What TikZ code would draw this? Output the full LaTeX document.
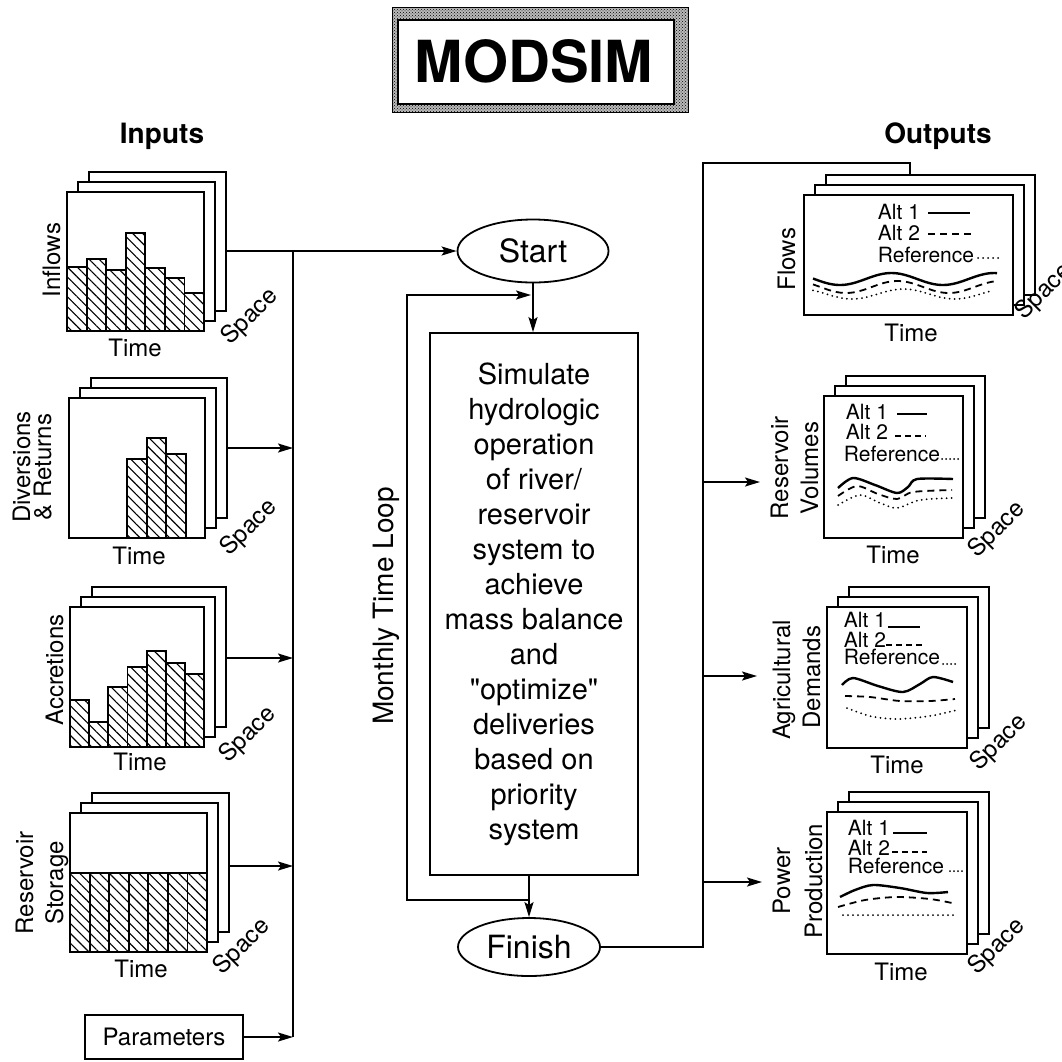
\documentclass[tikz,border=0pt]{standalone}
\usepackage{fontspec}
\setmainfont{TeX Gyre Heros}
\usetikzlibrary{arrows.meta,patterns,patterns.meta,shapes.geometric}

% three stacked sheets, front one at (#1,#2)-(#3,#4)
\newcommand{\sheets}[4]{%
  \draw[sheet] ({#1+22},{#2-20}) rectangle ({#3+22},{#4-20});
  \draw[sheet] ({#1+11},{#2-10}) rectangle ({#3+11},{#4-10});
  \draw[sheet] (#1,#2) rectangle (#3,#4);}

\begin{document}
\begin{tikzpicture}[x=1pt,y=-1pt,line width=1.8pt,
    sheet/.style={draw,fill=white,line width=2.2pt},
    bar/.style={draw,line width=1.8pt,pattern={Lines[angle=-45,distance=7pt,line width=1.1pt]}},
    flow/.style={-{Stealth[length=15pt,width=9pt,inset=3pt]}},
    lbl/.style={font=\fontsize{24}{28}\selectfont,inner sep=0pt},
    leg/.style={font=\fontsize{21}{24}\selectfont,inner sep=0pt,anchor=west},
    big/.style={font=\fontsize{32}{38}\selectfont},
    head/.style={font=\bfseries\fontsize{28}{32}\selectfont,anchor=base},
    dashline/.style={line width=1.8pt,dash pattern=on 7pt off 5pt},
    dots/.style={line width=2pt,dash pattern=on 0pt off 5pt,line cap=round}]
    \useasboundingbox (0,0) rectangle (1062,1061);

    % title
    \fill[gray!55] (392,7) rectangle (688,112);
    \fill[pattern=crosshatch dots] (392,7) rectangle (688,112);
    \draw[line width=0.8pt] (392,7) rectangle (688,112);
    \draw[fill=white,line width=2.5pt] (398,20) rectangle (674,104);
    \node[font=\bfseries\fontsize{58}{64}\selectfont,anchor=base] (title) at (534,82) {MODSIM};

    \node[head] (inputs) at (162,143) {Inputs};
    \node[head] (outputs) at (938,143) {Outputs};

    % inflows
    \sheets{67}{192}{204}{331}
    \draw[bar] (67,267) rectangle (86.6,331);
    \draw[bar] (86.6,259) rectangle (106.1,331);
    \draw[bar] (106.1,270) rectangle (125.7,331);
    \draw[bar] (125.7,233) rectangle (145.3,331);
    \draw[bar] (145.3,268) rectangle (164.9,331);
    \draw[bar] (164.9,278) rectangle (184.4,331);
    \draw[bar] (184.4,293) rectangle (204,331);
    \node[lbl,rotate=90,anchor=base] (inflowLbl) at (60,260) {Inflows};
    \node[lbl] (inflowTime) at (135,348) {Time};
    \node[lbl,rotate=45] (inflowSpace) at (250,317) {Space};

    % diversions
    \sheets{69}{398}{205}{538}
    \draw[bar] (127.3,459) rectangle (146.7,538);
    \draw[bar] (146.7,438) rectangle (166.1,538);
    \draw[bar] (166.1,454) rectangle (185.6,538);
    \node[lbl,rotate=90,anchor=base] (divLbl) at (30,467) {Diversions};
    \node[lbl,rotate=90,anchor=base] (retLbl) at (51,467) {\& Returns};
    \node[lbl] (divTime) at (139,556) {Time};
    \node[lbl,rotate=45] (divSpace) at (249,528) {Space};

    % accretions
    \sheets{70}{607}{204}{747}
    \draw[bar] (70,700) rectangle (89.1,747);
    \draw[bar] (89.1,722) rectangle (108.3,747);
    \draw[bar] (108.3,687) rectangle (127.4,747);
    \draw[bar] (127.4,667) rectangle (146.6,747);
    \draw[bar] (146.6,651) rectangle (165.7,747);
    \draw[bar] (165.7,663) rectangle (184.9,747);
    \draw[bar] (184.9,674) rectangle (204,747);
    \node[lbl,rotate=90,anchor=base] (accLbl) at (63,670) {Accretions};
    \node[lbl] (accTime) at (140,762) {Time};
    \node[lbl,rotate=45] (accSpace) at (248,735) {Space};

    % reservoir storage
    \sheets{70}{813}{207}{952}
    \draw[bar] (70,873) rectangle (89.6,952);
    \draw[bar] (89.6,873) rectangle (109.1,952);
    \draw[bar] (109.1,873) rectangle (128.7,952);
    \draw[bar] (128.7,873) rectangle (148.3,952);
    \draw[bar] (148.3,873) rectangle (167.9,952);
    \draw[bar] (167.9,873) rectangle (187.4,952);
    \draw[bar] (187.4,873) rectangle (207,952);
    \node[lbl,rotate=90,anchor=base] (stoLbl) at (33,883) {Reservoir};
    \node[lbl,rotate=90,anchor=base] (stoLbl2) at (63,883) {Storage};
    \node[lbl] (stoTime) at (141,969) {Time};
    \node[lbl,rotate=45] (stoSpace) at (242,947) {Space};

    \node[draw,lbl,line width=1.5pt,minimum width=158pt,minimum height=44pt] (param) at (164,1037) {Parameters};

    % simulation column
    \node[ellipse,draw,big,inner sep=0pt,minimum width=151pt,minimum height=63pt] (start) at (533,251) {Start};
    \node[draw,align=center,font=\fontsize{29}{35}\selectfont,minimum width=208pt,minimum height=542pt] (sim) at (534,604)
        {Simulate\\hydrologic\\operation\\of river/\\reservoir\\system to\\achieve\\mass balance\\and\\\textquotedbl optimize\textquotedbl\\deliveries\\based on\\priority\\system};
    \node[ellipse,draw,big,inner sep=0pt,minimum width=142pt,minimum height=58pt] (finish) at (529,947) {Finish};
    \node[font=\fontsize{28}{32}\selectfont,inner sep=0pt,rotate=90,anchor=base] (loopLbl) at (393,606) {Monthly Time Loop};

    % input connectors
    \coordinate (inR) at (227,251);
    \coordinate (busT) at (293,251);
    \coordinate (busB) at (293,1037);
    \coordinate (divR) at (227,448);
    \coordinate (divJ) at (293,448);
    \coordinate (accR) at (227,658);
    \coordinate (accJ) at (293,658);
    \coordinate (stoR) at (229,866);
    \coordinate (stoJ) at (293,866);
    \draw[flow] (inR) -- (start);
    \draw (busT) -- (busB);
    \draw[flow] (divR) -- (divJ);
    \draw[flow] (accR) -- (accJ);
    \draw[flow] (stoR) -- (stoJ);
    \draw[flow] (param) -- (busB);

    % time loop
    \coordinate (loopR) at (529,900);
    \coordinate (loopL) at (407,900);
    \coordinate (loopIn) at (531,295);
    \draw[flow] (start) -- (start |- sim.north);
    \draw[flow] (finish |- sim.south) -- (finish);
    \draw[flow] (loopR) -- (loopL) |- (loopIn);

    % output connectors
    \coordinate (outT) at (703,163);
    \coordinate (flowT) at (910,195);
    \coordinate (volJ) at (703,482);
    \coordinate (volL) at (760,482);
    \coordinate (agrJ) at (703,676);
    \coordinate (agrL) at (757,676);
    \coordinate (powJ) at (703,882);
    \coordinate (powL) at (762,882);
    \draw[flow] (finish.east) -| (outT) -| (flowT);
    \draw[flow] (volJ) -- (volL);
    \draw[flow] (agrJ) -- (agrL);
    \draw[flow] (powJ) -- (powL);

    % flows
    \sheets{804}{195}{1013}{315}
    \node[leg] (flowA1) at (877,212) {Alt 1};
    \draw (928,213) -- (970,213);
    \node[leg] (flowA2) at (877,233) {Alt 2};
    \draw[dashline] (928,234) -- (972,234);
    \node[leg] (flowRef) at (877,255) {Reference};
    \draw[dots] (978,258) -- (1000,258);
    \draw[line width=2.4pt] plot[domain=813:997,samples=60] (\x,{279+6*cos((\x-840)*3.5)});
    \draw[dashline] plot[domain=813:995,samples=60] (\x,{287+6*cos((\x-846)*3.5)});
    \draw[dots] plot[domain=813:993,samples=60] (\x,{294+5*cos((\x-852)*3.5)});
    \node[lbl,rotate=90,anchor=base] (flowLbl) at (795,259) {Flows};
    \node[lbl] (flowTime) at (911,333) {Time};
    \node[lbl,rotate=45] (flowSpace) at (1044,292) {Space};

    % reservoir volumes
    \sheets{824}{396}{963}{538}
    \node[leg] (volA1) at (845,412) {Alt 1};
    \draw (897,414) -- (927,414);
    \node[leg] (volA2) at (845,432) {Alt 2};
    \draw[dashline,dash pattern=on 6pt off 4pt] (895,436) -- (926,436);
    \node[leg] (volRef) at (843,454) {Reference};
    \draw[dots,dash pattern=on 0pt off 4pt] (942,459) -- (958,459);
    \draw[line width=2.4pt] plot[smooth] coordinates {(838,488) (853,478) (875,485) (897,493) (908,487) (917,479) (953,479)};
    \draw[dashline] plot[smooth] coordinates {(838,496) (857,486) (878,494) (897,499) (913,492) (952,490)};
    \draw[dots] plot[smooth] coordinates {(838,505) (860,495) (880,503) (897,508) (920,500) (953,498)};
    \node[lbl,rotate=90,anchor=base] (volLbl) at (788,468) {Reservoir};
    \node[lbl,rotate=90,anchor=base] (volLbl2) at (818,468) {Volumes};
    \node[lbl] (volTime) at (893,555) {Time};
    \node[lbl,rotate=45] (volSpace) at (997,530) {Space};

    % agricultural demands
    \sheets{827}{607}{967}{748}
    \node[leg] (agrA1) at (843,620) {Alt 1};
    \draw (888,627) -- (920,627);
    \node[leg] (agrA2) at (843,640) {Alt 2};
    \draw[dashline,dash pattern=on 6pt off 4pt] (886,645) -- (925,645);
    \node[leg] (agrRef) at (843,657) {Reference};
    \draw[dots,dash pattern=on 0pt off 4pt] (943,664) -- (958,664);
    \draw[line width=2.4pt] plot[smooth] coordinates {(842,685) (853,678) (878,686) (903,692) (920,684) (933,677) (953,682)};
    \draw[dashline] plot[smooth] coordinates {(845,696) (870,697) (900,701) (930,701) (955,699)};
    \draw[dots] plot[smooth] coordinates {(847,708) (870,716) (897,719) (930,716) (957,710)};
    \node[lbl,rotate=90,anchor=base] (agrLbl) at (790,680) {Agricultural};
    \node[lbl,rotate=90,anchor=base] (agrLbl2) at (820,677) {Demands};
    \node[lbl] (agrTime) at (897,765) {Time};
    \node[lbl,rotate=45] (agrSpace) at (999,743) {Space};

    % power production
    \sheets{827}{812}{967}{954}
    \node[leg] (powA1) at (847,828) {Alt 1};
    \draw (893,833) -- (927,833);
    \node[leg] (powA2) at (847,848) {Alt 2};
    \draw[dashline,dash pattern=on 6pt off 4pt] (892,852) -- (927,852);
    \node[leg] (powRef) at (847,866) {Reference};
    \draw[dots,dash pattern=on 0pt off 4pt] (950,871) -- (962,871);
    \draw[line width=2.4pt] plot[smooth] coordinates {(840,897) (855,890) (873,885) (900,888) (927,893) (948,892)};
    \draw[dashline] plot[smooth] coordinates {(838,907) (865,900) (897,897) (930,899) (952,903)};
    \draw[dots] (843,915) -- (955,915);
    \node[lbl,rotate=90,anchor=base] (powLbl) at (790,881) {Power};
    \node[lbl,rotate=90,anchor=base] (powLbl2) at (822,881) {Production};
    \node[lbl] (powTime) at (901,972) {Time};
    \node[lbl,rotate=45] (powSpace) at (997,947) {Space};
\end{tikzpicture}
\end{document}
